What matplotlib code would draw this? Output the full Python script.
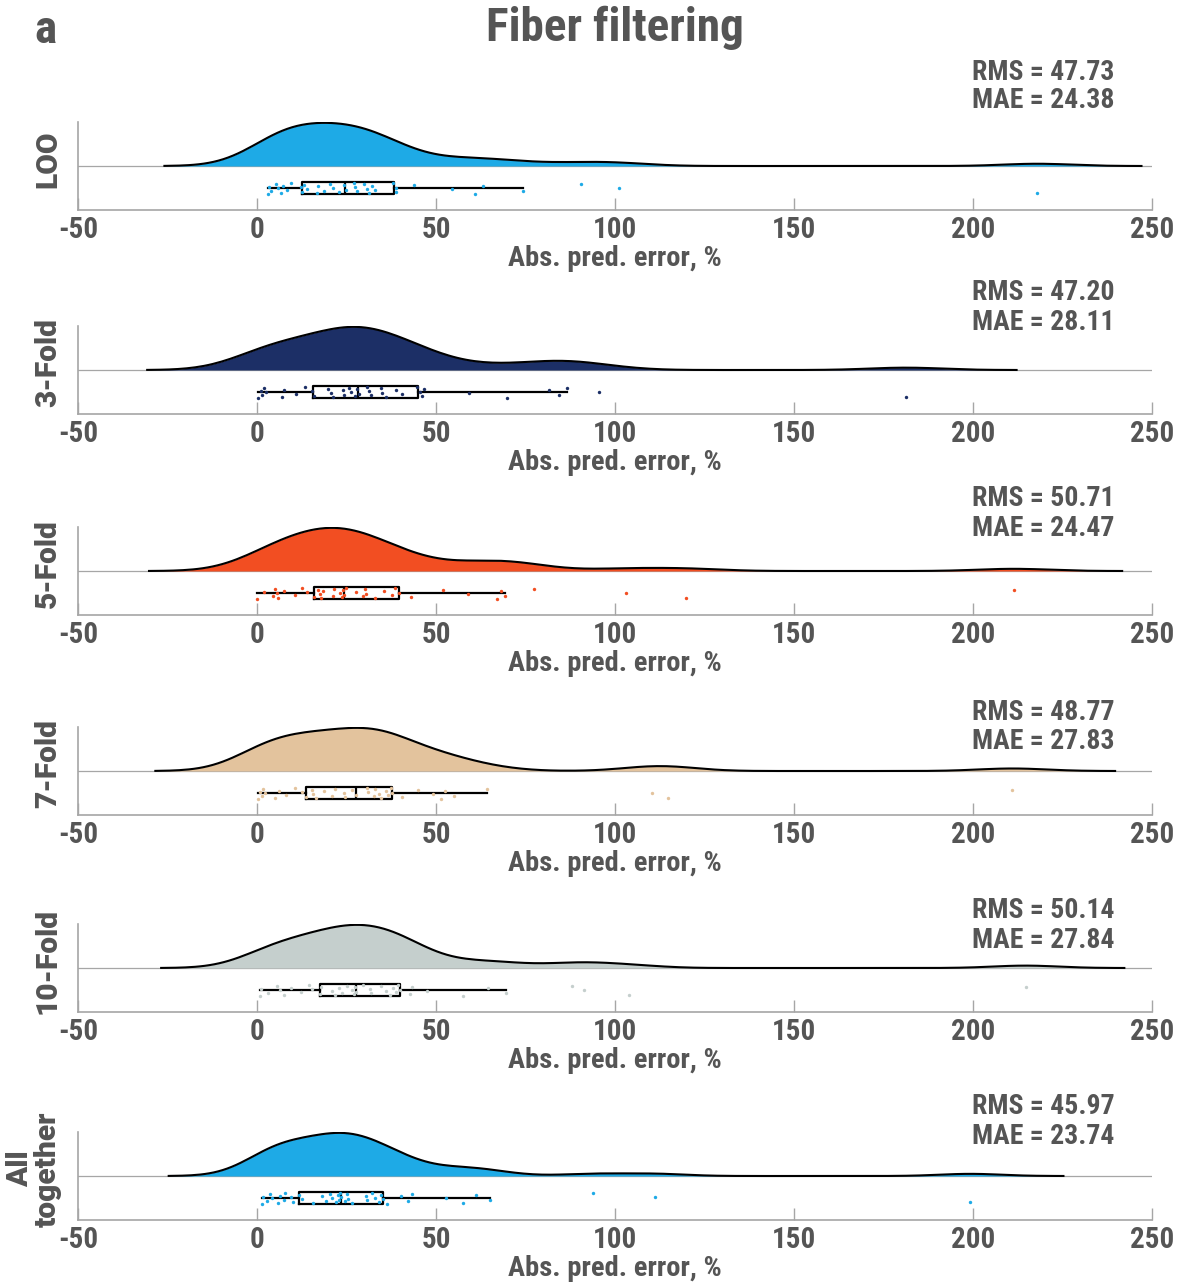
import numpy as np
import matplotlib
matplotlib.use("Agg")
import matplotlib.pyplot as plt
from matplotlib import font_manager as fm

# ---------------- data (absolute prediction error, %) ----------------
panel_names = ["LOO", "3-Fold", "5-Fold", "7-Fold", "10-Fold", "All\ntogether"]

loo_err = [3.2, 3.4, 3.8, 5.2, 5.9, 6.6, 7.4, 8.3, 9.4, 12.2, 12.6, 13.1, 14.1, 16.7,
           17.0, 18.7, 20.4, 21.1, 22.9, 24.2, 24.8, 27.1, 27.3, 28.0, 29.9, 30.8,
           31.3, 32.2, 33.1, 38.0, 38.7, 38.7, 43.9, 54.6, 60.8, 63.2, 74.3, 90.6,
           101.2, 218.0]
fold3_err = [0.3, 1.0, 1.5, 2.0, 2.5, 7.1, 7.6, 11.0, 13.5, 15.4, 15.8, 19.7, 20.6,
             21.1, 23.9, 24.3, 25.7, 26.2, 27.4, 28.0, 28.4, 30.8, 31.3, 31.8, 34.5,
             35.0, 35.9, 38.7, 40.6, 44.8, 45.6, 46.2, 46.6, 59.2, 69.9, 81.5, 84.4,
             86.7, 95.6, 181.2]
fold5_err = [0.1, 2.0, 4.5, 4.9, 5.5, 5.9, 7.6, 10.6, 12.5, 14.0, 16.0, 17.0, 17.5,
             17.9, 18.4, 21.2, 21.4, 23.3, 23.8, 24.0, 24.3, 24.8, 27.7, 29.7, 30.2,
             30.4, 33.1, 35.5, 37.8, 38.5, 39.7, 42.9, 52.0, 58.8, 67.0, 68.2, 69.2,
             77.5, 103.2, 119.9, 211.4]
fold7_err = [0.3, 0.8, 1.3, 1.8, 2.3, 4.9, 6.2, 8.0, 10.5, 12.5, 13.8, 15.5, 15.7,
             16.5, 18.6, 20.9, 21.9, 24.3, 24.5, 26.5, 27.7, 30.7, 31.0, 32.6, 33.1,
             34.1, 34.6, 36.1, 36.6, 37.5, 37.8, 40.5, 45.1, 49.3, 51.3, 52.5, 54.9,
             64.3, 110.3, 114.7, 211.0]
fold10_err = [0.8, 1.0, 3.2, 5.5, 6.5, 7.6, 9.4, 12.4, 14.5, 15.3, 17.5, 17.9, 20.9,
              21.9, 22.8, 23.8, 25.0, 26.5, 27.0, 27.4, 27.7, 29.5, 31.7, 31.9, 34.6,
              36.1, 37.1, 38.0, 38.8, 39.5, 40.0, 42.7, 43.2, 47.4, 57.5, 64.5, 69.6,
              88.0, 91.3, 103.9, 214.7]
all_err = [1.3, 1.8, 2.9, 3.5, 4.2, 5.9, 6.5, 7.6, 7.8, 9.4, 10.1, 11.8, 12.5, 15.7,
           18.1, 19.2, 20.4, 20.9, 22.2, 22.6, 23.0, 23.3, 23.6, 24.5, 25.1, 25.3,
           26.5, 30.4, 30.7, 32.0, 32.9, 34.0, 34.6, 35.1, 36.3, 40.2, 42.2, 43.4,
           52.9, 57.5, 61.1, 65.0, 93.9, 111.1, 199.3]

rms_values = ["47.73", "47.20", "50.71", "48.77", "50.14", "45.97"]
mae_values = ["24.38", "28.11", "24.47", "27.83", "27.84", "23.74"]

colors = ["#1eaae6", "#1c2f66", "#f24e22", "#e3c39d", "#c5cfcd", "#1eaae6"]
xticks = [-50, 0, 50, 100, 150, 200, 250]

# ---------------- fonts ----------------
def have(fam):
    try:
        fm.findfont(fm.FontProperties(family=fam), fallback_to_default=False)
        return True
    except Exception:
        return False

narrow = None
for cand in ["Roboto Condensed", "Liberation Sans Narrow", "Open Sans Condensed",
             "DejaVu Sans Condensed"]:
    if have(cand):
        narrow = cand
        break

if narrow is not None:
    main_font = narrow
    fs_tick, fs_xlab, fs_title, fs_stat = 21, 20.5, 34, 20
else:
    main_font = "Liberation Sans"
    fs_tick, fs_xlab, fs_title, fs_stat = 20, 18, 30, 18

plt.rcParams["font.family"] = [main_font, "DejaVu Sans"]
plt.rcParams["font.weight"] = "bold"
plt.rcParams["axes.labelweight"] = "bold"
GREY = "#555555"
SPINE = "#a6a6a6"
ylab_family = "Roboto" if have("Roboto") else "Liberation Sans"
ylab_fp = fm.FontProperties(family=ylab_family, weight="black", size=21.5)


def ksdensity(x):
    x = np.asarray(x, float)
    n = len(x)
    med = np.median(x)
    sig = np.median(np.abs(x - med)) / 0.6745
    bw = sig * (4.0 / (3.0 * n)) ** 0.2
    xs = np.linspace(x.min() - 3 * bw, x.max() + 3 * bw, 200)
    d = np.exp(-0.5 * ((xs[:, None] - x[None, :]) / bw) ** 2).sum(1) / (n * bw * np.sqrt(2 * np.pi))
    return xs, d


W, H = 1181, 1285
fig = plt.figure(figsize=(W / 100, H / 100), dpi=100)

datasets = [loo_err, fold3_err, fold5_err, fold7_err, fold10_err, all_err]
ax_tops = [122, 326, 527, 727, 924, 1132]
ax_h = 88
ax_left, ax_right = 78, 1152
rms_y = [72, 293, 499, 713, 911, 1107]

for i, data in enumerate(datasets):
    top = ax_tops[i]
    ax = fig.add_axes([ax_left / W, 1 - (top + ax_h) / H, (ax_right - ax_left) / W, ax_h / H])
    data = np.asarray(data, float)
    xs, d = ksdensity(data)
    pk = d.max() * 1.02
    ax.axhline(0, color=SPINE, lw=0.9, zorder=1)
    ax.fill_between(xs, 0, d, color=colors[i], lw=0, zorder=2)
    ax.plot(xs, d, color="black", lw=1.5, zorder=3)

    ypos = -0.5 * pk
    ax.boxplot([data], vert=False, positions=[ypos], widths=0.27 * pk,
               showfliers=False, showcaps=False, whis=1.5, manage_ticks=False,
               boxprops=dict(color="black", lw=1.6),
               whiskerprops=dict(color="black", lw=1.6),
               medianprops=dict(color="black", lw=1.6), zorder=4)
    k = np.arange(len(data))
    jit = ((k * 0.6180339887) % 1.0) * 2 - 1
    ax.scatter(data, ypos + jit * 0.13 * pk, s=6, color=colors[i], lw=0, zorder=5)

    ax.set_xlim(-50, 250)
    ax.set_ylim(-pk, pk)
    ax.set_yticks([])
    ax.set_xticks(xticks)
    ax.set_xticklabels([str(t) for t in xticks])
    ax.tick_params(axis="x", direction="in", length=9, width=1, color=SPINE,
                   labelsize=fs_tick, labelcolor=GREY, pad=4)
    for s in ("top", "right"):
        ax.spines[s].set_visible(False)
    for s in ("left", "bottom"):
        ax.spines[s].set_color(SPINE)
        ax.spines[s].set_linewidth(1.2)
    ax.set_xlabel("Abs. pred. error, %", fontsize=fs_xlab, color=GREY,
                  fontweight="bold", labelpad=1)
    ax.set_ylabel(panel_names[i], fontproperties=ylab_fp, color=GREY, linespacing=1.0)
    ax.yaxis.set_label_coords(-16 / (ax_right - ax_left), 0.58)

    fig.text(972 / W, 1 - rms_y[i] / H, f"RMS = {rms_values[i]}", fontsize=fs_stat,
             color=GREY, ha="left", va="center", fontweight="bold")
    fig.text(972 / W, 1 - (rms_y[i] + 29) / H, f"MAE = {mae_values[i]}", fontsize=fs_stat,
             color=GREY, ha="left", va="center", fontweight="bold")

fig.text(615 / W, 1 - 28 / H, "Fiber filtering", fontsize=fs_title, color=GREY,
         ha="center", va="center", fontweight="bold")
fig.text(46 / W, 1 - 30 / H, "a", fontsize=fs_title, color=GREY, ha="center",
         va="center", fontweight="bold")

fig.savefig("out.png", dpi=100)
